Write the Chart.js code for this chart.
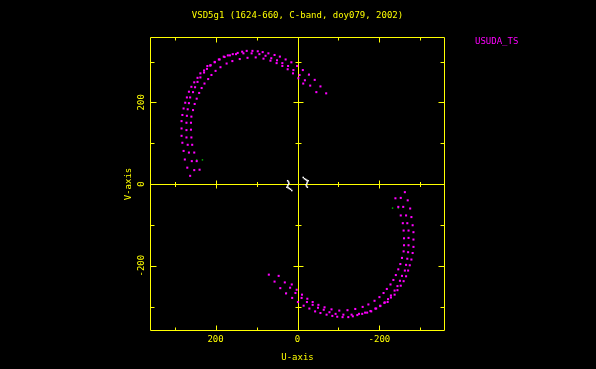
<!DOCTYPE html>
<html><head><meta charset="utf-8">
<script src="https://cdn.jsdelivr.net/npm/chart.js@4/dist/chart.umd.min.js"></script>
<style>html,body{margin:0;padding:0;background:#000;}#wrap{width:596px;height:369px;}</style>
</head><body><div id="wrap"><canvas id="c" width="596" height="369"></canvas></div>
<script>
const titleText = "VSD5g1 (1624-660, C-band, doy079, 2002)";
const legendLabel = "USUDA_TS";
const xAxisTitle = "U-axis";
const yAxisTitle = "V-axis";
const axisMin = -360, axisMax = 360;
const majorTicks = [-200, 0, 200];
const majorTickLabels = ["-200", "0", "200"];
const minorTicks = [-300, -100, 100, 300];

const upperA_u = [262,269,275,278,281,283,283,283,281,278,274,270,265,259,252,244,237,228,220,212,202,192,180,170,158,146,135,124,110,97,85,71,56,43,29,15,1,-13,-28,-42,-56,-70];
const upperA_v = [20,40,60,81,101,118,136,154,169,185,199,212,226,238,249,260,271,278,289,291,299,305,312,315,318,321,324,326,326,325,323,320,316,312,305,298,289,279,268,255,239,222];
const upperB_u = [252,258,265,268,271,271,271,270,268,265,262,255,250,244,237,228,221,213,202,190,178,165,150,132,112,93,78,64,50,37,23,10,-5,-18,-31,-46];
const upperB_v = [34,56,77,96,114,132,150,167,183,198,212,225,237,250,261,273,282,290,298,305,311,315,318,320,320,318,314,308,303,296,289,279,267,254,241,225];
const upperC_u = [239,246,252,257,259,260,260,259,255,251,246,240,234,227,218,210,200,188,173,159,141,122,102,83,66,51,37,24,11,-2,-14];
const upperC_v = [35,56,77,96,114,133,150,165,181,196,209,223,235,246,257,267,277,286,295,301,306,309,310,307,302,296,289,281,271,259,246];

const lowerA_u = [-262,-269,-275,-278,-281,-283,-283,-283,-281,-278,-274,-270,-265,-259,-252,-244,-237,-228,-220,-212,-202,-192,-180,-170,-158,-146,-135,-124,-110,-97,-85,-71,-56,-43,-29,-15,-1,13,28,42,56,70];
const lowerA_v = [-20,-40,-60,-81,-101,-118,-136,-154,-169,-185,-199,-212,-226,-238,-249,-260,-271,-278,-289,-291,-299,-305,-312,-315,-318,-321,-324,-326,-326,-325,-323,-320,-316,-312,-305,-298,-289,-279,-268,-255,-239,-222];
const lowerB_u = [-252,-258,-265,-268,-271,-271,-271,-270,-268,-265,-262,-255,-250,-244,-237,-228,-221,-213,-202,-190,-178,-165,-150,-132,-112,-93,-78,-64,-50,-37,-23,-10,5,18,31,46];
const lowerB_v = [-34,-56,-77,-96,-114,-132,-150,-167,-183,-198,-212,-225,-237,-250,-261,-273,-282,-290,-298,-305,-311,-315,-318,-320,-320,-318,-314,-308,-303,-296,-289,-279,-267,-254,-241,-225];
const lowerC_u = [-239,-246,-252,-257,-259,-260,-260,-259,-255,-251,-246,-240,-234,-227,-218,-210,-200,-188,-173,-159,-141,-122,-102,-83,-66,-51,-37,-24,-11,2,14];
const lowerC_v = [-35,-56,-77,-96,-114,-133,-150,-165,-181,-196,-209,-223,-235,-246,-257,-267,-277,-286,-295,-301,-306,-309,-310,-307,-302,-296,-289,-281,-271,-259,-246];

const short_u = [24,22,21,23,24,26,23,20,17,14,-24,-22,-21,-23,-24,-26,-23,-20,-17,-14];
const short_v = [8,5,2,-2,-5,-8,-9,-11,-13,-16,-8,-5,-2,2,5,8,9,11,13,16];

const green_u = [-27,246,232,27,-246,-232];
const green_v = [267,59,59,-267,-59,-59];

const FONT = '9px "DejaVu Sans Mono"';
const YEL = '#ffff00', MAG = '#ff00ff';

function pts(u, v) { return u.map((x, i) => ({x: x, y: v[i]})); }
function magSet(u, v) {
  return {data: pts(u, v), backgroundColor: MAG, borderWidth: 0, pointStyle: 'rect', pointRadius: 1.45};
}

const framePlugin = {
  id: 'frame',
  beforeDraw(chart) {
    const ctx = chart.ctx;
    ctx.save(); ctx.fillStyle = '#000'; ctx.fillRect(0, 0, chart.width, chart.height); ctx.restore();
  },
  beforeDatasetsDraw(chart) {
    const ctx = chart.ctx, xs = chart.scales.x, ys = chart.scales.y;
    const L = Math.round(xs.getPixelForValue(axisMax)) + 0.5;
    const R = Math.round(xs.getPixelForValue(axisMin)) - 0.5;
    const T = Math.round(ys.getPixelForValue(axisMax)) + 0.5;
    const B = Math.round(ys.getPixelForValue(axisMin)) - 0.5;
    const x0 = Math.round(xs.getPixelForValue(0)) + 0.5;
    const y0 = Math.round(ys.getPixelForValue(0)) + 0.5;
    ctx.save();
    ctx.strokeStyle = YEL; ctx.lineWidth = 1;
    ctx.beginPath();
    ctx.rect(L, T, R - L, B - T);
    ctx.moveTo(x0, T); ctx.lineTo(x0, B);
    ctx.moveTo(L, y0); ctx.lineTo(R, y0);
    const all = majorTicks.filter(t => t !== 0).map(t => [t, true]).concat(minorTicks.map(t => [t, false]));
    all.forEach(([t, maj]) => {
      const x = Math.round(xs.getPixelForValue(t)) + 0.5;
      const y = Math.round(ys.getPixelForValue(t)) + 0.5;
      const hl = maj ? 5 : 3, vl = maj ? 6 : 4;
      ctx.moveTo(x, B); ctx.lineTo(x, B - hl);
      ctx.moveTo(x, T); ctx.lineTo(x, T + hl);
      ctx.moveTo(L, y); ctx.lineTo(L + vl, y);
      ctx.moveTo(R, y); ctx.lineTo(R - vl, y);
      const ch = maj ? 4 : 2.5, cv = maj ? 5 : 3;
      ctx.moveTo(x, y0 - ch); ctx.lineTo(x, y0 + ch);
      ctx.moveTo(x0 - cv, y); ctx.lineTo(x0 + cv, y);
    });
    ctx.stroke();
    ctx.restore();
  },
  afterDraw(chart) {
    const ctx = chart.ctx, xs = chart.scales.x, ys = chart.scales.y;
    ctx.save();
    ctx.font = FONT; ctx.fillStyle = YEL;
    ctx.textAlign = 'center'; ctx.textBaseline = 'middle';
    ctx.fillText(titleText, xs.getPixelForValue(0), 16);
    majorTicks.forEach((t, i) => {
      ctx.fillText(majorTickLabels[i], xs.getPixelForValue(t), 340);
    });
    ctx.fillText(xAxisTitle, xs.getPixelForValue(0), 358);
    majorTicks.forEach((t, i) => {
      ctx.save();
      ctx.translate(141.5, ys.getPixelForValue(t));
      ctx.rotate(-Math.PI / 2);
      ctx.fillText(majorTickLabels[i], 0, 0);
      ctx.restore();
    });
    ctx.save();
    ctx.translate(128.5, ys.getPixelForValue(0));
    ctx.rotate(-Math.PI / 2);
    ctx.fillText(yAxisTitle, 0, 0);
    ctx.restore();
    ctx.fillStyle = MAG; ctx.textAlign = 'left';
    ctx.fillText(legendLabel, 475, 42);
    ctx.restore();
  }
};

new Chart(document.getElementById('c'), {
  type: 'scatter',
  data: {
    datasets: [
      magSet(upperA_u, upperA_v), magSet(upperB_u, upperB_v), magSet(upperC_u, upperC_v),
      magSet(lowerA_u, lowerA_v), magSet(lowerB_u, lowerB_v), magSet(lowerC_u, lowerC_v),
      {data: pts(short_u, short_v), backgroundColor: '#ffffff', borderWidth: 0, pointStyle: 'rect', pointRadius: 1.1},
      {data: pts(green_u, green_v), backgroundColor: '#00c000', borderWidth: 0, pointStyle: 'rect', pointRadius: 1.0}
    ]
  },
  options: {
    responsive: false, animation: false, devicePixelRatio: 1,
    layout: {padding: {left: 150, right: 151, top: 37, bottom: 38}},
    plugins: {legend: {display: false}, tooltip: {enabled: false}, title: {display: false}},
    scales: {
      x: {type: 'linear', min: axisMin, max: axisMax, reverse: true, display: false},
      y: {type: 'linear', min: axisMin, max: axisMax, display: false}
    }
  },
  plugins: [framePlugin]
});
</script></body></html>
